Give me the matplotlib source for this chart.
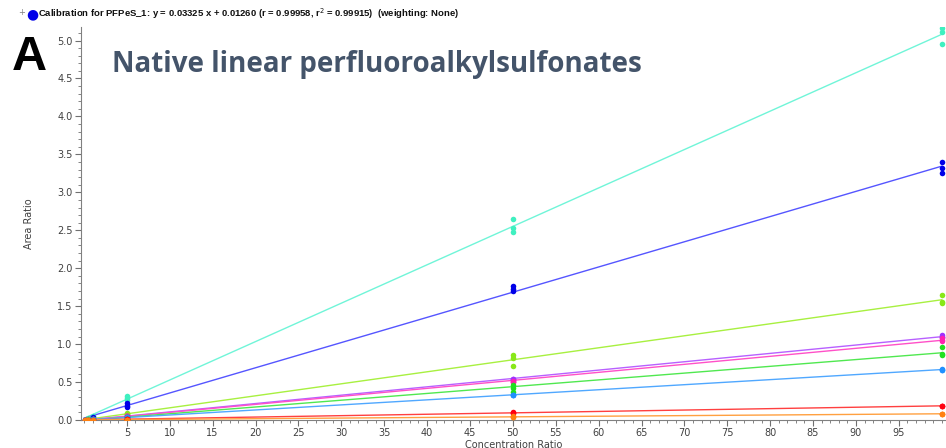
import numpy as np
import matplotlib
matplotlib.use("Agg")
import matplotlib.pyplot as plt
from matplotlib.ticker import MultipleLocator, FixedLocator

# concentration levels (replicates at 5, 50, 100)
conc = [0.1, 0.5, 1, 5, 5, 5, 50, 50, 50, 100, 100, 100]

# area ratios, one list per compound
cyan_y = [0.005, 0.025, 0.055, 0.32, 0.29, 0.27, 2.65, 2.53, 2.48, 5.17, 5.11, 4.96]
blue_y = [0.004, 0.018, 0.035, 0.22, 0.185, 0.17, 1.76, 1.72, 1.70, 3.40, 3.32, 3.25]
lime_y = [0.002, 0.008, 0.016, 0.096, 0.08, 0.075, 0.857, 0.814, 0.71, 1.645, 1.56, 1.547]
purple_y = [0.001, 0.005, 0.011, 0.056, 0.053, 0.05, 0.545, 0.54, 0.53, 1.117, 1.10, 1.09]
magenta_y = [0.001, 0.005, 0.01, 0.052, 0.05, 0.047, 0.52, 0.505, 0.50, 1.086, 1.05, 1.035]
green_y = [0.001, 0.004, 0.009, 0.045, 0.042, 0.04, 0.46, 0.42, 0.37, 0.96, 0.87, 0.86]
skyblue_y = [0.001, 0.003, 0.007, 0.035, 0.033, 0.031, 0.335, 0.33, 0.325, 0.673, 0.665, 0.66]
red_y = [0.0005, 0.001, 0.002, 0.012, 0.011, 0.01, 0.11, 0.095, 0.088, 0.19, 0.185, 0.18]
orange_y = [0.0002, 0.0005, 0.001, 0.005, 0.005, 0.004, 0.05, 0.045, 0.04, 0.083, 0.08, 0.078]

series = [cyan_y, blue_y, lime_y, purple_y, magenta_y, green_y, skyblue_y, red_y, orange_y]
point_colors = ["#3ff0c0", "#0000e8", "#88e818", "#a030ff", "#ff20b0", "#20e020", "#2090ff", "#ff0010", "#ff8010"]
line_colors = ["#70f5d8", "#5555ff", "#a8f040", "#b860ff", "#ff50c8", "#50e850", "#50a8ff", "#ff4040", "#ffa040"]

x_ticks = list(range(5, 100, 5))
y_ticks = [0.0, 0.5, 1.0, 1.5, 2.0, 2.5, 3.0, 3.5, 4.0, 4.5, 5.0]

fig = plt.figure(figsize=(9.46, 4.48), dpi=100)
ax = fig.add_axes([0.0856, 0.0625, 0.9144, 0.8775])

xx = np.array([0, 100])
for ys, pc, lc in zip(series, point_colors, line_colors):
    k, b = np.polyfit(conc, ys, 1)
    ax.plot(xx, k * xx + b, color=lc, lw=1.0, zorder=2)
    ax.scatter(conc, ys, s=16, color=pc, zorder=3, linewidths=0)

ax.set_xlim(-0.35, 100.5)
ax.set_ylim(0, 5.18)
ax.xaxis.set_major_locator(FixedLocator(x_ticks))
ax.xaxis.set_minor_locator(MultipleLocator(1))
ax.yaxis.set_major_locator(FixedLocator(y_ticks))
ax.yaxis.set_minor_locator(MultipleLocator(0.1))
ax.set_yticklabels(["%.1f" % v for v in y_ticks])
ax.tick_params(which="both", direction="out", colors="#707070", labelcolor="#404040", labelsize=7, pad=2)
ax.tick_params(which="major", length=4)
ax.tick_params(which="minor", length=2)
for s in ["top", "right"]:
    ax.spines[s].set_visible(False)
for s in ["left", "bottom"]:
    ax.spines[s].set_color("#808080")
ax.set_xlabel("Concentration Ratio", fontsize=7, color="#404040", labelpad=1)
ax.set_ylabel("Area Ratio", fontsize=7, color="#404040", labelpad=17)

# header line
fig.text(0.019, 0.972, "+", fontsize=6, color="#808080", va="center")
fig.text(0.0275, 0.969, "\u25CF", fontsize=10, color="#0000e8", va="center")
fig.text(0.040, 0.969,
         "Calibration for PFPeS_1: y = 0.03325 x + 0.01260 (r = 0.99958, r$^2$ = 0.99915)  (weighting: None)",
         fontsize=6.8, fontweight="bold", color="#101010", va="center", family="Liberation Sans")

fig.text(0.012, 0.844, "A", fontsize=35, fontweight="bold", color="black",
         va="baseline", family="Liberation Sans")
fig.text(0.118, 0.839, "Native linear perfluoroalkylsulfonates", fontsize=20,
         fontweight="bold", color="#44546a", family="Open Sans", va="baseline")

plt.savefig("out.png", dpi=100)
